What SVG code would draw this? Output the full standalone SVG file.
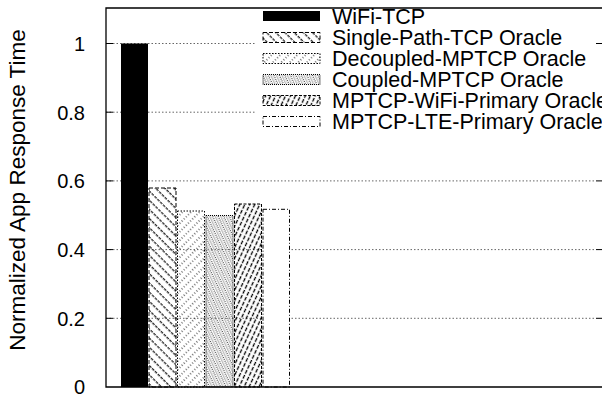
<svg xmlns="http://www.w3.org/2000/svg" width="602" height="394" viewBox="0 0 602 394">
<style>
text { font-family: "Liberation Sans", Arial, sans-serif; fill: #000; }
.tick { font-size: 20px; text-anchor: end; }
.leg { font-size: 21.5px; }
.grid { stroke: #666; stroke-width: 1; stroke-dasharray: 1.5 2; }
.tk { stroke: #000; stroke-width: 1; }
.frame { stroke: #000; stroke-width: 1.3; fill: none; }
.b2 { fill: url(#p2); stroke: #000; stroke-width: 1; stroke-dasharray: 4 2; }
.b3 { fill: url(#p3); stroke: #000; stroke-width: 1; stroke-dasharray: 1.5 1.5; }
.b4 { fill: url(#p4); stroke: #000; stroke-width: 1; stroke-dasharray: 1 1; }
.b5 { fill: url(#p5); stroke: #000; stroke-width: 1; stroke-dasharray: 3 1.5; }
.b6 { fill: #fff; stroke: #000; stroke-width: 1; stroke-dasharray: 4 2 1 2; }
</style>
<defs>
<pattern id="p2" width="6.5" height="8" patternUnits="userSpaceOnUse" patternTransform="rotate(-45)"><line x1="3" y1="0" x2="3" y2="8" stroke="#000" stroke-width="1.1" stroke-dasharray="3 1"/></pattern>
<pattern id="p3" width="6" height="6" patternUnits="userSpaceOnUse" patternTransform="rotate(45)"><line x1="3" y1="0" x2="3" y2="6" stroke="#000" stroke-width="1" stroke-dasharray="1 2"/></pattern>
<pattern id="p4" width="5" height="4" patternUnits="userSpaceOnUse" patternTransform="rotate(-25)"><line x1="1.25" y1="0" x2="1.25" y2="4" stroke="#000" stroke-width="0.9" stroke-dasharray="1 1"/><line x1="3.75" y1="0" x2="3.75" y2="4" stroke="#999" stroke-width="0.9"/></pattern>
<pattern id="p5" width="4.5" height="5.5" patternUnits="userSpaceOnUse" patternTransform="rotate(25)"><line x1="2.25" y1="0" x2="2.25" y2="5.5" stroke="#000" stroke-width="1.3" stroke-dasharray="4 1.5"/></pattern>
</defs>
<rect width="602" height="394" fill="#fff"/>
<g id="grid">
<line class="grid" x1="106" y1="43.5" x2="596" y2="43.5"/>
<line class="grid" x1="106" y1="112.2" x2="596" y2="112.2"/>
<line class="grid" x1="106" y1="180.9" x2="596" y2="180.9"/>
<line class="grid" x1="106" y1="249.6" x2="596" y2="249.6"/>
<line class="grid" x1="106" y1="318.3" x2="596" y2="318.3"/>
</g>
<g id="bars">
<rect id="bar-wifi-tcp" x="121" y="43.5" width="27" height="343.5" fill="#000"/>
<rect id="bar-single-path" class="b2" x="149" y="188" width="27" height="199"/>
<rect id="bar-decoupled" class="b3" x="177.5" y="211" width="27" height="176"/>
<rect id="bar-coupled" class="b4" x="206" y="215.5" width="27" height="171.5"/>
<rect id="bar-wifi-primary" class="b5" x="234.5" y="204" width="27" height="183"/>
<rect id="bar-lte-primary" class="b6" x="263" y="209.3" width="26.5" height="177.7"/>
</g>
<g id="legend">
<rect x="255" y="9" width="347" height="124" fill="#fff"/>
<rect x="263" y="11" width="57" height="10" fill="#000"/>
<text class="leg" x="332" y="23.5">WiFi-TCP</text>
<rect class="b2" x="263" y="32.5" width="57" height="10"/>
<text class="leg" x="332" y="45">Single-Path-TCP Oracle</text>
<rect class="b3" x="263" y="53.5" width="57" height="10"/>
<text class="leg" x="332" y="66">Decoupled-MPTCP Oracle</text>
<rect class="b4" x="263" y="74.5" width="57" height="10"/>
<text class="leg" x="332" y="87">Coupled-MPTCP Oracle</text>
<rect class="b5" x="263" y="95.5" width="57" height="10"/>
<text class="leg" x="332" y="108">MPTCP-WiFi-Primary Oracle</text>
<rect class="b6" x="263" y="116.5" width="57" height="10"/>
<text class="leg" x="332" y="129">MPTCP-LTE-Primary Oracle</text>
</g>
<g id="axes">
<polyline class="frame" points="602,8 106,8 106,387 602,387"/>
<line class="tk" x1="106" y1="43.5" x2="113" y2="43.5"/>
<line class="tk" x1="106" y1="112.2" x2="113" y2="112.2"/>
<line class="tk" x1="106" y1="180.9" x2="113" y2="180.9"/>
<line class="tk" x1="106" y1="249.6" x2="113" y2="249.6"/>
<line class="tk" x1="106" y1="318.3" x2="113" y2="318.3"/>
<line class="tk" x1="596" y1="43.5" x2="602" y2="43.5"/>
<line class="tk" x1="596" y1="180.9" x2="602" y2="180.9"/>
<line class="tk" x1="596" y1="249.6" x2="602" y2="249.6"/>
<line class="tk" x1="596" y1="318.3" x2="602" y2="318.3"/>
<text class="tick" x="85" y="51">1</text>
<text class="tick" x="85" y="119.5">0.8</text>
<text class="tick" x="85" y="188">0.6</text>
<text class="tick" x="85" y="257">0.4</text>
<text class="tick" x="85" y="325.5">0.2</text>
<text class="tick" x="85" y="394">0</text>
<text x="25" y="190" font-size="22.5" text-anchor="middle" transform="rotate(-90 25 190)">Normalized App Response Time</text>
</g>
</svg>
